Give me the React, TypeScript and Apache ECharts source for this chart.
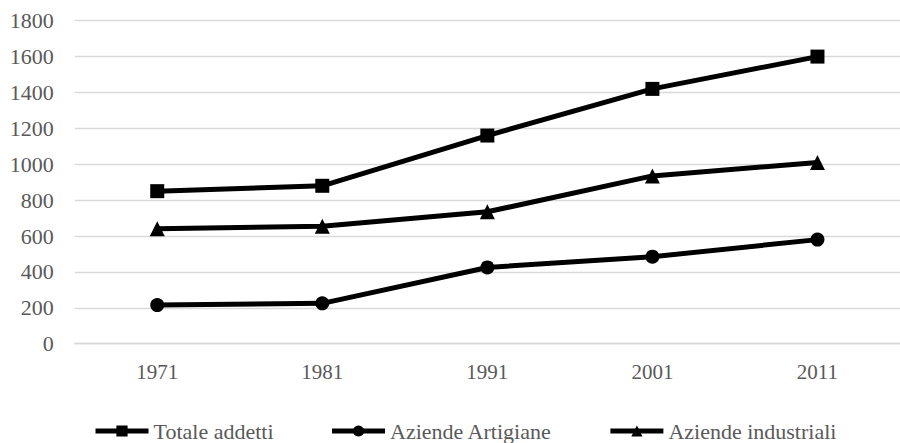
import React, { useEffect, useRef } from "react";
import * as echarts from "echarts";

const categories = ["1971", "1981", "1991", "2001", "2011"];
const totaleAddetti = [850, 880, 1160, 1420, 1600];
const aziendeArtigiane = [215, 225, 425, 485, 580];
const aziendeIndustriali = [640, 655, 735, 935, 1010];
const yTicks = { min: 0, max: 1800, interval: 200 };

const FONT = "Liberation Serif";

export default function App() {
  const ref = useRef<HTMLDivElement>(null);
  useEffect(() => {
    document.body.style.margin = "0";
    if (!ref.current) return;
    const chart = echarts.init(ref.current, null, { renderer: "svg" });
    const mk = (name: string, data: number[], symbol: string, size: number) => ({
      name,
      type: "line",
      data,
      symbol,
      symbolSize: size,
      showSymbol: true,
      lineStyle: { color: "#000", width: 5 },
      itemStyle: { color: "#000", borderColor: "#000", borderWidth: 0 },
      emphasis: { disabled: true },
    });
    chart.setOption({
      animation: false,
      backgroundColor: "#fff",
      textStyle: { fontFamily: FONT },
      grid: { left: 74.7, top: 20.7, width: 843, height: 323 },
      xAxis: {
        type: "category",
        data: categories,
        boundaryGap: true,
        axisLine: { show: true, lineStyle: { color: "#d9d9d9", width: 1.3 } },
        axisTick: { show: false },
        axisLabel: { color: "#595959", fontFamily: FONT, fontSize: 21, margin: 18 },
      },
      yAxis: {
        type: "value",
        min: yTicks.min,
        max: yTicks.max,
        interval: yTicks.interval,
        axisLine: { show: false },
        axisTick: { show: false },
        splitLine: { lineStyle: { color: "#d9d9d9", width: 1.3 } },
        axisLabel: {
          color: "#595959",
          fontFamily: FONT,
          fontSize: 22,
          margin: 21,
          formatter: (v: number) => String(v),
        },
      },
      legend: {
        left: 88,
        top: 414,
        itemWidth: 53,
        itemHeight: 14,
        itemGap: 56,
        lineStyle: { width: 5, color: "#000" },
        textStyle: { color: "#595959", fontFamily: FONT, fontSize: 22, lineHeight: 24 },
        data: ["Totale addetti", "Aziende Artigiane", "Aziende industriali"],
      },
      series: [
        mk("Totale addetti", totaleAddetti, "rect", 14),
        mk("Aziende Artigiane", aziendeArtigiane, "circle", 14),
        mk("Aziende industriali", aziendeIndustriali, "triangle", 15),
      ],
    });
    return () => chart.dispose();
  }, []);
  return <div ref={ref} style={{ width: 900, height: 443 }} />;
}
